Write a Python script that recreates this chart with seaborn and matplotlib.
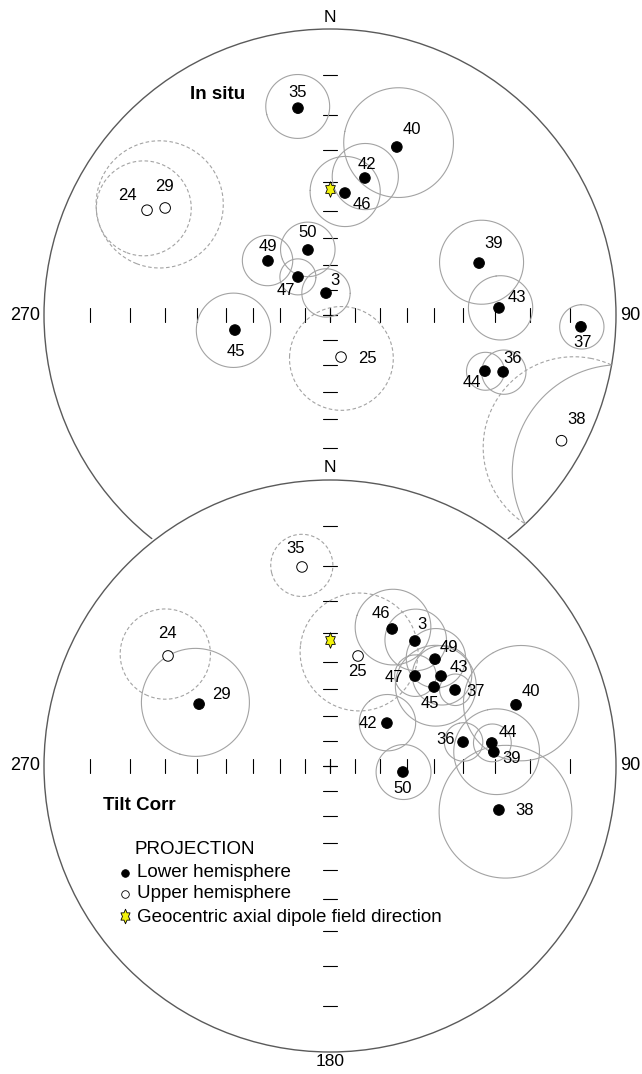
import numpy as np
import pandas as pd
import seaborn as sns
import matplotlib
matplotlib.use("Agg")
import matplotlib.pyplot as plt
from matplotlib.path import Path
from matplotlib.patches import Circle

# ---------------------------------------------------------------- data
sites = ["3", "24", "25", "29", "35", "36", "37", "38", "39",
         "40", "42", "43", "44", "45", "46", "47", "49", "50"]

# 95% confidence cone half-angle (degrees)
a95 = [9.6, 12.2, 20.1, 17.0, 8.3, 6.3, 5.0, 19.0, 12.8,
       15.5, 10.6, 9.5, 5.7, 13.3, 11.8, 7.0, 9.3, 10.3]

# in situ site-mean directions (negative inclination = upper hemisphere)
insitu_dec = [349.7, 299.8, 165.3, 303.0, 351.2, 108.2, 92.7, 118.5, 70.8,
              21.7, 14.3, 87.6, 109.9, 261.0, 7.0, 319.9, 311.1, 341.3]
insitu_inc = [81.1, -17.2, -72.7, -21.0, 17.6, 25.0, 7.4, -4.7, 32.2,
              25.4, 37.4, 28.8, 30.1, 52.8, 43.5, 70.3, 57.9, 63.0]

# tilt-corrected site-mean directions
tilt_dec = [34.2, 304.2, 14.3, 295.3, 352.0, 79.8, 58.7, 104.6, 85.1,
            71.8, 53.0, 51.0, 81.9, 52.8, 24.4, 43.4, 44.5, 94.7]
tilt_inc = [34.3, -21.2, -46.7, 36.3, -19.8, 39.4, 35.8, 27.2, 30.2,
            21.2, 62.0, 36.9, 30.5, 40.9, 34.5, 43.2, 34.7, 61.3]

# geocentric axial dipole field direction
gad_dec, gad_inc = 0.0, 42.4

net_titles = ["In situ", "Tilt Corr"]
legend_title = "PROJECTION"
legend_labels = ["Lower hemisphere", "Upper hemisphere",
                 "Geocentric axial dipole field direction"]

# ------------------------------------------------------- label placement
# (dx, dy) of each site number from its symbol, in pixels (y downwards)
insitu_label_offsets = {
    "3": (9, -13), "24": (-20, -15), "25": (26, 1), "29": (-1, -21),
    "35": (0, -16), "36": (9, -13), "37": (2, 16), "38": (15, -21),
    "39": (15, -20), "40": (15, -18), "42": (2, -14), "43": (18, -10),
    "44": (-13, 11), "45": (1, 21), "46": (17, 11), "47": (-12, 13),
    "49": (0, -14), "50": (0, -17)}
tilt_label_offsets = {
    "3": (7, -17), "24": (-1, -22), "25": (-1, 16), "29": (22, -10),
    "35": (-6, -18), "36": (-17, -3), "37": (21, 2), "38": (26, 0),
    "39": (18, 7), "40": (15, -13), "42": (-19, 0), "43": (18, -9),
    "44": (16, -10), "45": (-4, 16), "46": (-11, -15), "47": (-21, 1),
    "49": (14, -12), "50": (0, 17)}

# ---------------------------------------------------------------- style
sns.set_style("white")
plt.rcParams["font.family"] = ["Liberation Sans", "DejaVu Sans"]
plt.rcParams["text.color"] = "black"

W, H = 642, 1074
R = 286.0
CONE_COLOR = "#a3a3a3"
PRIM_COLOR = "#5a5a5a"

fig = plt.figure(figsize=(W / 100, H / 100), dpi=100)
ax = fig.add_axes([0, 0, 1, 1])
ax.set_xlim(0, W)
ax.set_ylim(H, 0)
ax.axis("off")


def unit(dec, inc):
    d, i = np.radians(dec), np.radians(inc)
    return np.array([np.cos(i) * np.cos(d), np.cos(i) * np.sin(d), np.sin(i)])


def project(v, cx, cy):
    """Stereographic (Wulff) projection of unit vectors (north, east, down)."""
    v = np.atleast_2d(v)
    k = 1.0 + np.abs(v[:, 2])
    return cx + R * v[:, 1] / k, cy - R * v[:, 0] / k


def cone(dec, inc, alpha, n=720):
    d = unit(dec, inc)
    ref = np.array([0.0, 0.0, 1.0]) if abs(d[2]) < 0.9 else np.array([1.0, 0.0, 0.0])
    u = np.cross(d, ref)
    u /= np.linalg.norm(u)
    w = np.cross(d, u)
    t = np.linspace(0, 2 * np.pi, n + 1)
    a = np.radians(alpha)
    return (np.cos(a) * d[None, :]
            + np.sin(a) * (np.cos(t)[:, None] * u[None, :] + np.sin(t)[:, None] * w[None, :]))


def draw_cone(dec, inc, alpha, cx, cy, z):
    pts = cone(dec, inc, alpha)
    lower = pts[:, 2] >= 0
    start = 0
    for k in range(1, len(pts) + 1):
        if k == len(pts) or lower[k] != lower[start]:
            seg = pts[start:min(k + 1, len(pts))]
            x, y = project(seg, cx, cy)
            ax.plot(x, y, color=CONE_COLOR, lw=0.8,
                    ls="-" if lower[start] else (0, (3.2, 2.2)), zorder=z)
            start = k


def hexagram():
    ang = np.radians(90 + 30 * np.arange(12))
    rad = np.where(np.arange(12) % 2 == 0, 1.0, 1 / np.sqrt(3))
    xs, ys = 0.72 * rad * np.cos(ang), rad * np.sin(ang)
    verts = np.column_stack([xs, ys])
    verts = np.vstack([verts, verts[:1]])
    return Path(verts, [Path.MOVETO] + [Path.LINETO] * 11 + [Path.CLOSEPOLY])


STAR = hexagram()
tick_inc = np.arange(10, 90, 10)
tick_r = R * np.tan(np.radians((90 - tick_inc) / 2))


def draw_frame(cx, cy, z, mask):
    if mask:
        ax.add_patch(Circle((cx, cy), R + 2.5, facecolor="white",
                            edgecolor="none", zorder=z))
    ax.add_patch(Circle((cx, cy), R, fill=False, edgecolor=PRIM_COLOR,
                        lw=1.0, zorder=z + 1))
    kw = dict(color="black", lw=0.8, zorder=z + 1)
    for r in np.concatenate([[0.0], tick_r]):
        for s in (-1, 1):
            ax.plot([cx + s * r, cx + s * r], [cy - 7, cy + 7], **kw)
            ax.plot([cx - 7, cx + 7], [cy + s * r, cy + s * r], **kw)
    ax.text(cx, cy - R - 12, "N", ha="center", va="center", fontsize=12.5, zorder=z + 8)
    ax.text(25, cy, "270", ha="center", va="center", fontsize=13, zorder=z + 8)
    ax.text(630, cy, "90", ha="center", va="center", fontsize=13, zorder=z + 8)


nets = [
    dict(cx=330, cy=315, dec=insitu_dec, inc=insitu_inc,
         offs=insitu_label_offsets, z=0, mask=False, title_xy=(218, 99)),
    dict(cx=330, cy=766, dec=tilt_dec, inc=tilt_inc,
         offs=tilt_label_offsets, z=20, mask=True, title_xy=(139, 810)),
]

for title, net in zip(net_titles, nets):
    cx, cy, z = net["cx"], net["cy"], net["z"]
    draw_frame(cx, cy, z, net["mask"])

    for d, i, a in zip(net["dec"], net["inc"], a95):
        draw_cone(d, i, a, cx, cy, z + 2)

    vecs = np.array([unit(d, i) for d, i in zip(net["dec"], net["inc"])])
    px, py = project(vecs, cx, cy)
    df = pd.DataFrame({"site": sites, "x": px, "y": py,
                       "hemisphere": np.where(np.array(net["inc"]) >= 0, "Lower", "Upper")})
    sns.scatterplot(data=df, x="x", y="y", hue="hemisphere",
                    palette={"Lower": "black", "Upper": "white"},
                    edgecolor="black", linewidth=0.7, s=58, legend=False,
                    ax=ax, zorder=z + 4)

    for _, row in df.iterrows():
        dx, dy = net["offs"][row["site"]]
        ax.text(row["x"] + dx, row["y"] + dy, row["site"], ha="center",
                va="center", fontsize=12, zorder=z + 6)

    gx, gy = project(unit(gad_dec, gad_inc), cx, cy)
    ax.scatter(gx, gy, marker=STAR, s=125, facecolor="#f2f20a",
               edgecolor="black", linewidth=0.6, zorder=z + 5)

    tx, ty = net["title_xy"]
    ax.text(tx, ty, title, ha="center", va="baseline", fontsize=13.5,
            fontweight="bold", zorder=z + 8)

ax.text(330, 1062, "180", ha="center", va="center", fontsize=12.5, zorder=40)

# legend
ax.text(134, 854, legend_title, ha="left", va="baseline", fontsize=13.5, zorder=40)
leg_y = [873, 894, 916]
leg_base = [877, 898, 922]
ax.scatter([125], [leg_y[0]], s=30, facecolor="black", edgecolor="black",
           linewidth=0.6, zorder=40)
ax.scatter([125], [leg_y[1]], s=30, facecolor="white", edgecolor="black",
           linewidth=0.6, zorder=40)
ax.scatter([125], [leg_y[2]], marker=STAR, s=110, facecolor="#f2f20a",
           edgecolor="black", linewidth=0.6, zorder=40)
for lab, yb in zip(legend_labels, leg_base):
    ax.text(137, yb, lab, ha="left", va="baseline", fontsize=13.5, zorder=40)

fig.savefig("out.png", dpi=100, facecolor="white")
